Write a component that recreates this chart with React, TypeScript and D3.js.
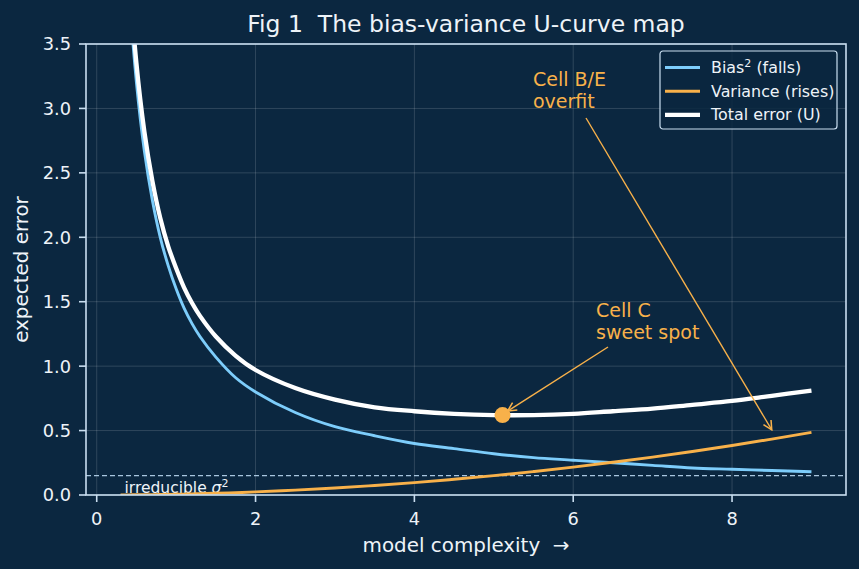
import * as d3 from 'd3';

// model complexity sampled along the x axis
const complexity = [0.3, 0.4, 0.5, 0.6, 0.7, 0.8, 0.9, 1.0, 1.1, 1.2, 1.3, 1.5, 1.75, 2.0, 2.5, 3.0, 3.5, 4.0, 4.5, 5.0, 5.5, 6.0, 6.5, 7.0, 7.5, 8.0, 8.5, 9.0];
const biasSq = [5.33, 4.0, 3.2, 2.67, 2.29, 2.0, 1.78, 1.6, 1.45, 1.33, 1.23, 1.07, 0.91, 0.8, 0.64, 0.53, 0.46, 0.4, 0.36, 0.32, 0.29, 0.27, 0.25, 0.23, 0.21, 0.2, 0.19, 0.18];
const variance = [0.001, 0.001, 0.002, 0.002, 0.003, 0.004, 0.005, 0.006, 0.007, 0.009, 0.01, 0.014, 0.018, 0.024, 0.038, 0.054, 0.074, 0.096, 0.122, 0.15, 0.182, 0.216, 0.254, 0.294, 0.338, 0.384, 0.434, 0.486];
const totalError = [5.48, 4.15, 3.35, 2.82, 2.44, 2.15, 1.93, 1.76, 1.61, 1.49, 1.39, 1.23, 1.08, 0.97, 0.83, 0.74, 0.68, 0.65, 0.63, 0.62, 0.62, 0.63, 0.65, 0.67, 0.7, 0.73, 0.77, 0.81];

const irreducible = 0.15;
const sweetSpot = [5.11, 0.62];
const overfitTarget = [8.5, 0.49];

const xTicks = [0, 2, 4, 6, 8];
const yTicks = [0, 0.5, 1.0, 1.5, 2.0, 2.5, 3.0, 3.5];

const W = 859;
const H = 569;
const margin = { top: 44, right: 13, bottom: 74, left: 86 };

const BG = '#0b2740';
const SPINE = '#c9def0';
const INK = '#eef3f8';
const BLUE = '#7dcdfb';
const ORANGE = '#f8b14a';
const FONT = 'DejaVu Sans, sans-serif';

export default function App() {
  const x = d3.scaleLinear().domain([-0.135, 9.435]).range([margin.left, W - margin.right]);
  const y = d3.scaleLinear().domain([0, 3.5]).range([H - margin.bottom, margin.top]);
  const [x0, x1] = x.range();
  const [y0, y1] = y.range();

  const line = (vals: number[]) =>
    d3
      .line<number>()
      .x((_, i) => x(complexity[i]))
      .y((d) => y(d))
      .curve(d3.curveCatmullRom.alpha(0.5))(vals) ?? '';

  const series = [
    { key: 'bias', vals: biasSq, color: BLUE, w: 2.9 },
    { key: 'var', vals: variance, color: ORANGE, w: 2.9 },
    { key: 'total', vals: totalError, color: '#ffffff', w: 4.3 },
  ];

  const sx = x(sweetSpot[0]);
  const sy = y(sweetSpot[1]);
  const ox = x(overfitTarget[0]);
  const oy = y(overfitTarget[1]);

  return (
    <svg
      width={W}
      height={H}
      style={{ position: 'fixed', left: 0, top: 0, display: 'block', background: BG }}
      fontFamily={FONT}
    >
      <defs>
        <clipPath id="plot">
          <rect x={x0} y={y1} width={x1 - x0} height={y0 - y1} />
        </clipPath>
        <marker id="arrow" viewBox="0 0 10 10" refX="9" refY="5" markerWidth="11" markerHeight="11" orient="auto" markerUnits="userSpaceOnUse">
          <path d="M1,1 L9,5 L1,9" fill="none" stroke={ORANGE} strokeWidth="1.4" />
        </marker>
      </defs>
      <rect width={W} height={H} fill={BG} />

      {/* grid */}
      <g stroke="#ffffff" strokeOpacity={0.17} strokeWidth={0.9}>
        {xTicks.map((t) => (
          <line key={'gx' + t} x1={x(t)} x2={x(t)} y1={y1} y2={y0} />
        ))}
        {yTicks.map((t) => (
          <line key={'gy' + t} x1={x0} x2={x1} y1={y(t)} y2={y(t)} />
        ))}
      </g>

      {/* irreducible noise floor */}
      <line x1={x0} x2={x1} y1={y(irreducible)} y2={y(irreducible)} stroke="#a9c6df" strokeWidth={1.4} strokeDasharray="5,3" />
      <text x={x(0.35)} y={y(irreducible) + 17} fill={INK} fontSize={15.5}>
        irreducible <tspan fontStyle="italic">σ</tspan>
        <tspan dy={-6} fontSize={11}>2</tspan>
      </text>

      <g clipPath="url(#plot)" fill="none" strokeLinejoin="round">
        {series.map((s) => (
          <path key={s.key} d={line(s.vals)} stroke={s.color} strokeWidth={s.w} />
        ))}
      </g>

      <circle cx={sx} cy={sy} r={8} fill={ORANGE} />

      {/* annotations */}
      <line x1={608} y1={347} x2={sx + 5} y2={sy - 4} stroke={ORANGE} strokeWidth={1.4} markerEnd="url(#arrow)" />
      <text x={596} y={317} fill={ORANGE} fontSize={19}>
        <tspan x={596}>Cell C</tspan>
        <tspan x={596} dy={22}>sweet spot</tspan>
      </text>
      <line x1={586} y1={118} x2={ox} y2={oy - 2} stroke={ORANGE} strokeWidth={1.4} markerEnd="url(#arrow)" />
      <text x={533} y={86} fill={ORANGE} fontSize={19}>
        <tspan x={533}>Cell B/E</tspan>
        <tspan x={533} dy={22}>overfit</tspan>
      </text>

      {/* spines */}
      <rect x={x0} y={y1} width={x1 - x0} height={y0 - y1} fill="none" stroke={SPINE} strokeWidth={1.6} />

      {/* x axis */}
      {xTicks.map((t) => (
        <g key={'tx' + t} transform={`translate(${x(t)},${y0})`}>
          <line y2={7} stroke={SPINE} strokeWidth={1.6} />
          <text y={30} textAnchor="middle" fill={INK} fontSize={17.8}>
            {t}
          </text>
        </g>
      ))}
      {/* y axis */}
      {yTicks.map((t) => (
        <g key={'ty' + t} transform={`translate(${x0},${y(t)})`}>
          <line x2={-7} stroke={SPINE} strokeWidth={1.6} />
          <text x={-15} dy="0.36em" textAnchor="end" fill={INK} fontSize={17.8}>
            {t.toFixed(1)}
          </text>
        </g>
      ))}

      <text x={(x0 + x1) / 2} y={552} textAnchor="middle" fill={INK} fontSize={19.9} style={{ whiteSpace: 'pre' }}>
        {'model complexity  →'}
      </text>
      <text transform={`translate(28,${(y0 + y1) / 2}) rotate(-90)`} textAnchor="middle" fill={INK} fontSize={19.9}>
        expected error
      </text>
      <text x={(x0 + x1) / 2} y={32} textAnchor="middle" fill={INK} fontSize={23.5} style={{ whiteSpace: 'pre' }}>
        {'Fig 1  The bias-variance U-curve map'}
      </text>

      {/* legend */}
      <g transform="translate(660,51)">
        <rect width={177} height={78} rx={3} fill={BG} fillOpacity={0.85} stroke={SPINE} strokeWidth={1.2} />
        {series.map((s, i) => (
          <g key={'lg' + s.key} transform={`translate(5,${16.5 + i * 23.7})`}>
            <line x1={0} x2={35} stroke={s.color} strokeWidth={s.w} />
            <text x={46} dy="0.35em" fill={INK} fontSize={15.9}>
              {i === 0 && (
                <>
                  Bias<tspan dy={-6} fontSize={11}>2</tspan>
                  <tspan dy={6}> (falls)</tspan>
                </>
              )}
              {i === 1 && 'Variance (rises)'}
              {i === 2 && 'Total error (U)'}
            </text>
          </g>
        ))}
      </g>
    </svg>
  );
}
